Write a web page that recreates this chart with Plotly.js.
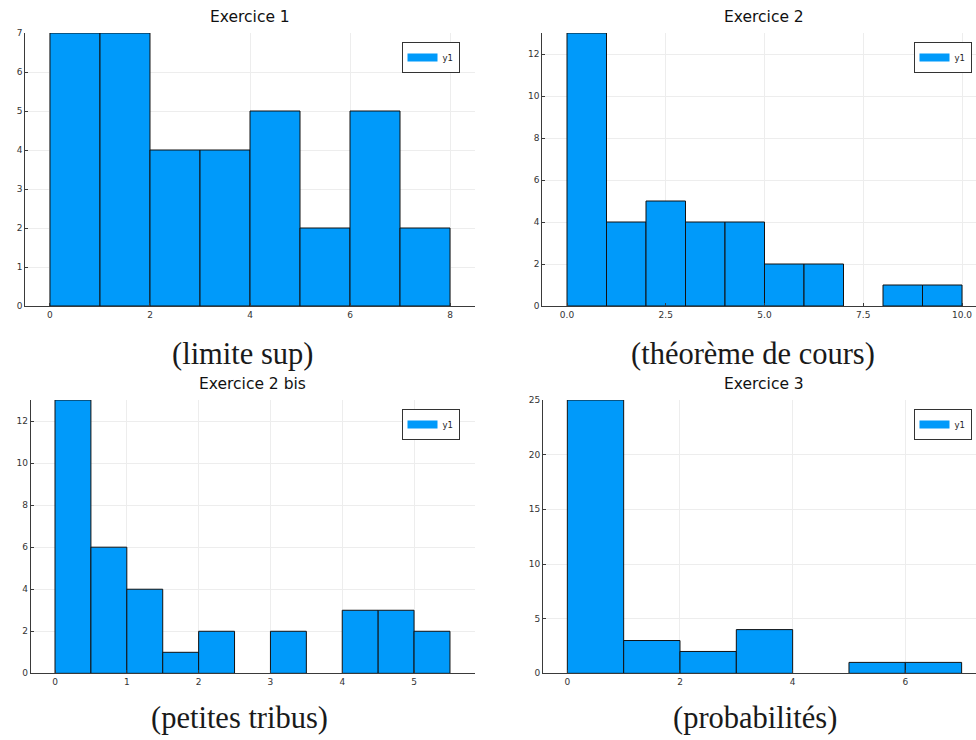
<!DOCTYPE html>
<html>
<head>
<meta charset="utf-8">
<script src="https://cdn.plot.ly/plotly-3.0.1.min.js"></script>
<style>html,body{margin:0;padding:0;background:#fff;}#chart{width:976px;height:740px;}</style>
</head>
<body>
<div id="chart"></div>
<script>
// ---- data ----
const titles = ["Exercice 1", "Exercice 2", "Exercice 2 bis", "Exercice 3"];
const captions = ["(limite sup)", "(théorème de cours)", "(petites tribus)", "(probabilités)"];
const seriesName = "y1";

const edges1 = [0, 1, 2, 3, 4, 5, 6, 7, 8];
const counts1 = [7, 7, 4, 4, 5, 2, 5, 2];

const edges2 = [0, 1, 2, 3, 4, 5, 6, 7, 8, 9, 10];
const counts2 = [13, 4, 5, 4, 4, 2, 2, 0, 1, 1];

const edges3 = [0, 0.5, 1, 1.5, 2, 2.5, 3, 3.5, 4, 4.5, 5, 5.5];
const counts3 = [13, 6, 4, 1, 2, 0, 2, 0, 3, 3, 2];

const edges4 = [0, 1, 2, 3, 4, 5, 6, 7];
const counts4 = [25, 3, 2, 4, 0, 1, 1];

const xTicks1 = [0, 2, 4, 6, 8];
const xTicks2 = [0, 2.5, 5, 7.5, 10];
const xTicks3 = [0, 1, 2, 3, 4, 5];
const xTicks4 = [0, 2, 4, 6];
const yTicks1 = [0, 1, 2, 3, 4, 5, 6, 7];
const yTicks2 = [0, 2, 4, 6, 8, 10, 12];
const yTicks3 = [0, 2, 4, 6, 8, 10, 12];
const yTicks4 = [0, 5, 10, 15, 20, 25];

// ---- layout helpers (pixel geometry) ----
const W = 976, H = 740;
const fx = p => p / W;
const fy = p => 1 - p / H;

const panels = [
  {edges: edges1, counts: counts1, xt: xTicks1, yt: yTicks1, fmt: "d",   px: [25.33, 474.67], py: [33, 306],     xr: [-0.493, 8.493],   yr: [0, 7],  leg: [459.5, 42]},
  {edges: edges2, counts: counts2, xt: xTicks2, yt: yTicks2, fmt: ".1f", px: [542.33, 976],   py: [33, 306],     xr: [-0.6245, 10.354], yr: [0, 13], leg: [971.5, 42]},
  {edges: edges3, counts: counts3, xt: xTicks3, yt: yTicks3, fmt: "d",   px: [30.67, 474.67], py: [400, 673.33], xr: [-0.339, 5.844],   yr: [0, 13], leg: [459.5, 409]},
  {edges: edges4, counts: counts4, xt: xTicks4, yt: yTicks4, fmt: "d",   px: [543, 976],      py: [400, 673.33], xr: [-0.432, 7.255],   yr: [0, 25], leg: [971.5, 409]}
];

const BLUE = "#009AFA";
const AXC = "#3a3a3a";
const tickFont = {family: "DejaVu Sans", size: 9, color: "#333"};

const data = [];
const layout = {
  width: W, height: H,
  margin: {l: 0, r: 0, t: 0, b: 0},
  paper_bgcolor: "#fff", plot_bgcolor: "#fff",
  showlegend: true,
  bargap: 0,
  annotations: [],
  font: {family: "DejaVu Sans"}
};

panels.forEach((p, i) => {
  const n = i + 1;
  const xa = n === 1 ? "x" : "x" + n;
  const ya = n === 1 ? "y" : "y" + n;
  const legKey = n === 1 ? "legend" : "legend" + n;
  // only non-empty bins get a bar (empty bins draw nothing)
  const idx = p.counts.map((c, k) => k).filter(k => p.counts[k] > 0);
  const centers = idx.map(k => (p.edges[k] + p.edges[k + 1]) / 2);
  const widths = idx.map(k => p.edges[k + 1] - p.edges[k]);
  const vals = idx.map(k => p.counts[k]);
  data.push({
    type: "bar", x: centers, y: vals, width: widths,
    xaxis: xa, yaxis: ya, name: seriesName, showlegend: false,
    marker: {color: BLUE, line: {color: "#111", width: 1}},
    hoverinfo: "x+y"
  });
  // legend entry (no data points)
  data.push({
    type: "scatter", mode: "lines", x: [null], y: [null],
    xaxis: xa, yaxis: ya, name: seriesName, legend: legKey,
    line: {color: BLUE, width: 8}, showlegend: true
  });

  layout["xaxis" + (n === 1 ? "" : n)] = {
    domain: [fx(p.px[0]), fx(p.px[1])], anchor: ya,
    range: p.xr, tickvals: p.xt, tickformat: p.fmt,
    showgrid: true, gridcolor: "#ededed", gridwidth: 1,
    zeroline: false, showline: true, linecolor: AXC, linewidth: 1,
    ticks: "inside", ticklen: 3, tickcolor: AXC, tickfont: tickFont,
    fixedrange: true
  };
  layout["yaxis" + (n === 1 ? "" : n)] = {
    domain: [fy(p.py[1]), fy(p.py[0])], anchor: xa,
    range: p.yr, tickvals: p.yt,
    showgrid: true, gridcolor: "#ededed", gridwidth: 1,
    zeroline: false, showline: true, linecolor: AXC, linewidth: 1,
    ticks: "inside", ticklen: 3, tickcolor: AXC, tickfont: tickFont,
    fixedrange: true
  };
  layout[legKey] = {
    x: fx(p.leg[0]), y: fy(p.leg[1]), xref: "paper", yref: "paper",
    xanchor: "right", yanchor: "top",
    bgcolor: "#fff", bordercolor: "#333", borderwidth: 1,
    font: {family: "DejaVu Sans", size: 8.5, color: "#222"},
    itemwidth: 30, tracegroupgap: 0
  };
});

// subplot titles, centred on the full plot area
const titleCenters = [[250, 16.7], [764.2, 16.7], [252.7, 384], [764.3, 384]];
titles.forEach((t, i) => {
  layout.annotations.push({
    text: t, xref: "paper", yref: "paper",
    x: fx(titleCenters[i][0]), y: fy(titleCenters[i][1]),
    xanchor: "center", yanchor: "middle", showarrow: false,
    font: {family: "DejaVu Sans", size: 15.5, color: "#111"}
  });
});
// sub-captions below each figure
const captionCenters = [[242.5, 354], [753.3, 354], [239, 718], [754.5, 718]];
captions.forEach((c, i) => {
  layout.annotations.push({
    text: c, xref: "paper", yref: "paper",
    x: fx(captionCenters[i][0]), y: fy(captionCenters[i][1]),
    xanchor: "center", yanchor: "middle", showarrow: false,
    font: {family: "Liberation Serif", size: 30.5, color: "#1a1a1a"}
  });
});

Plotly.newPlot("chart", data, layout, {staticPlot: true, displayModeBar: false});
</script>
</body>
</html>
